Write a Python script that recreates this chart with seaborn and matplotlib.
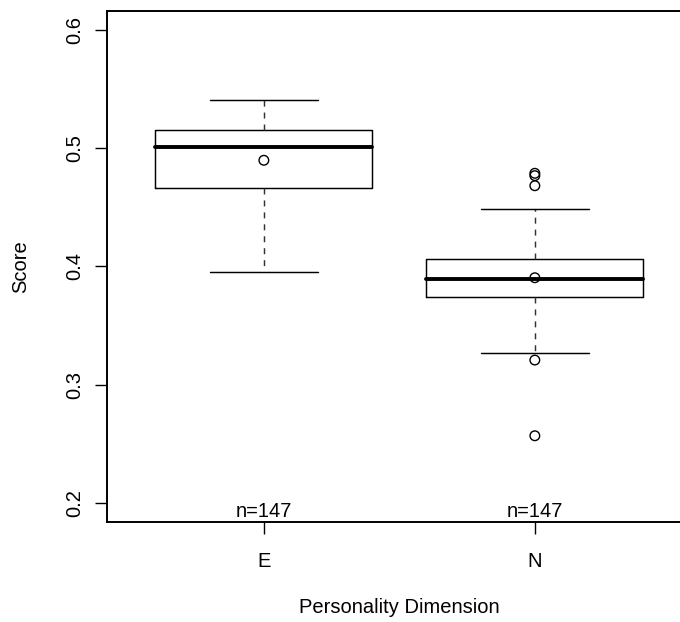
import numpy as np
import matplotlib
matplotlib.use("Agg")
import matplotlib.pyplot as plt
import seaborn as sns
import pandas as pd

# ---- data ----
categories = ["E", "N"]
n_counts = [147, 147]
whisker_low = [0.3955, 0.3271]
q1 = [0.4661, 0.3739]
medians = [0.5010, 0.3892]
q3 = [0.5157, 0.4061]
whisker_high = [0.5405, 0.4489]
means = [0.4898, 0.3905]
outlier_groups = ["N", "N", "N", "N", "N"]
outlier_values = [0.4788, 0.4768, 0.4683, 0.3209, 0.2569]
y_ticks = [0.2, 0.3, 0.4, 0.5, 0.6]
y_ticklabels = ["0.2", "0.3", "0.4", "0.5", "0.6"]
x_title = "Personality Dimension"
y_title = "Score"

sns.set_theme(style="white")
plt.rcParams['font.family'] = ['Liberation Sans', 'DejaVu Sans']
plt.rcParams['lines.scale_dashes'] = False

DPI = 100
fig = plt.figure(figsize=(6.8, 6.22), dpi=DPI)
ax = fig.add_axes([106.7 / 680, 100 / 622, (692 - 106.7) / 680, 511 / 622])

positions = list(range(len(categories)))
stats = []
for i, c in enumerate(categories):
    stats.append(dict(label=c, whislo=whisker_low[i], q1=q1[i], med=medians[i],
                      q3=q3[i], whishi=whisker_high[i], fliers=[]))

lw = 1.05
ax.bxp(stats, positions=positions, widths=0.8, showfliers=False,
       patch_artist=False, manage_ticks=False,
       boxprops=dict(color='black', linewidth=lw),
       whiskerprops=dict(color='#333333', linewidth=lw, linestyle=(0, (4.3, 4.3))),
       capprops=dict(color='black', linewidth=lw),
       capwidths=0.4,
       medianprops=dict(color='black', linewidth=2.8, solid_capstyle='round'))

# outliers and means as open circles
pts = pd.DataFrame({
    "x": [categories.index(g) for g in outlier_groups] + positions,
    "y": outlier_values + means,
})
sns.scatterplot(data=pts, x="x", y="y", ax=ax, marker='o', s=48,
                facecolor='none', edgecolor='black', linewidth=1.0, zorder=5)

ax.set_xlim(-0.58, 1.58)
ax.set_ylim(0.184, 0.616)
ax.set_xticks(positions)
ax.set_xticklabels(categories)
ax.set_yticks(y_ticks)
ax.set_yticklabels(y_ticklabels)

fs = 14.5
ax.tick_params(axis='x', direction='out', length=8.5, width=1.0, pad=13,
               labelsize=fs, colors='black', bottom=True)
ax.tick_params(axis='y', direction='out', length=8.5, width=1.0, pad=8,
               labelsize=fs, colors='black', left=True, labelrotation=90)
for lab in ax.get_yticklabels():
    lab.set_va('center')

for s in ax.spines.values():
    s.set_color('black')
    s.set_linewidth(1.4)

for i, n in enumerate(n_counts):
    ax.text(positions[i], 0.188, f"n={n}", ha='center', va='baseline',
            fontsize=fs, color='black')

ax.set_xlabel(x_title, fontsize=fs, color='black', va='baseline')
ax.xaxis.set_label_coords(0.5, -0.178)
ax.set_ylabel(y_title, fontsize=fs, color='black', va='center')
ax.yaxis.set_label_coords(-0.1464, 0.5)

fig.savefig("out.png", dpi=DPI)
